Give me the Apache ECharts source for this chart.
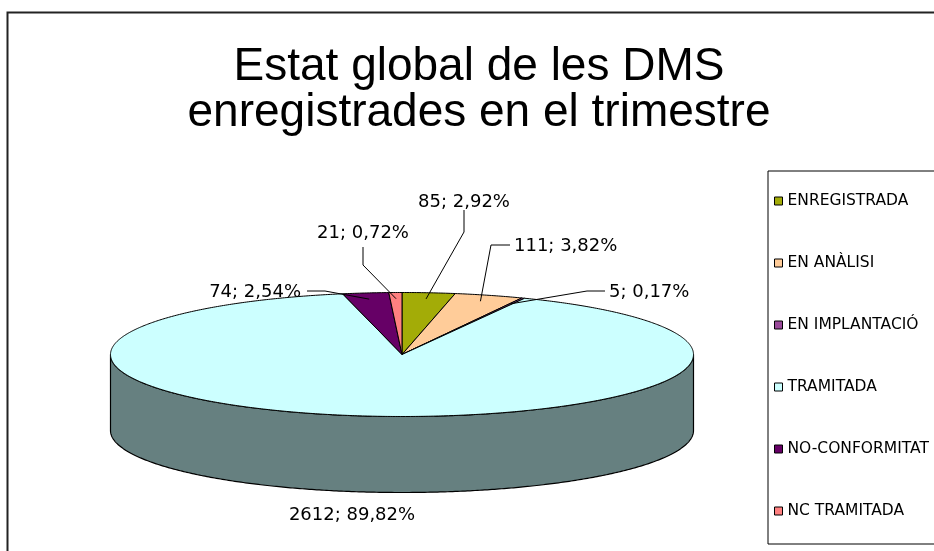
<!DOCTYPE html>
<html>
<head>
<meta charset="utf-8">
<title>Estat global de les DMS</title>
<script src="https://cdn.jsdelivr.net/npm/echarts@6/dist/echarts.min.js"></script>
<style>
  html, body { margin: 0; padding: 0; background: #fff; }
  #chart { width: 934px; height: 551px; }
</style>
</head>
<body>
<div id="chart"></div>
<script>
// Categories and counts of DMS registered in the quarter
const categories = ['ENREGISTRADA', 'EN ANÀLISI', 'EN IMPLANTACIÓ', 'TRAMITADA', 'NO-CONFORMITAT', 'NC TRAMITADA'];
const counts = [85, 111, 5, 2612, 74, 21];
const sliceColors = ['#A3AC07', '#FFCC99', '#9A4A9A', '#CCFFFF', '#660066', '#FF8080'];
const sideColor = '#668080';

// Geometry of the tilted pie (top ellipse + extruded wall)
const pie = { cx: 402, cy: 354.5, rx: 291.5, ry: 62, depth: 76 };

// Where each data label sits, and the bend of its leader line
const labelLayout = [
  { at: [464, 202], knee: [464, 232], end: [464, 210], align: 'center' },
  { at: [514, 246], knee: [491, 245], end: [510, 245], align: 'left' },
  { at: [609, 292], knee: [587, 291], end: [605, 291], align: 'left' },
  { at: [352, 515], align: 'center' },
  { at: [301, 292], knee: [325, 291], end: [307, 291], align: 'right' },
  { at: [363, 233], knee: [363, 265], end: [363, 247], align: 'center' }
];

const FONT = '"DejaVu Sans", "Liberation Sans", Arial, sans-serif';
const TITLE_FONT = '"Liberation Sans", Arial, Helvetica, sans-serif';
const total = counts.reduce((a, b) => a + b, 0);
const startFrac = [];
counts.reduce((acc, v, i) => { startFrac[i] = acc; return acc + v / total; }, 0);

function pt(theta, k, dz) {
  return [pie.cx + k * pie.rx * Math.sin(theta), pie.cy - k * pie.ry * Math.cos(theta) + (dz || 0)];
}

function arcPoints(a0, a1, dz) {
  const pts = [];
  const n = Math.max(2, Math.ceil(Math.abs(a1 - a0) / (Math.PI / 360)));
  for (let j = 0; j <= n; j++) pts.push(pt(a0 + (a1 - a0) * j / n, 1, dz));
  return pts;
}

function fmtPct(v) {
  return (v / total * 100).toFixed(2).replace('.', ',') + '%';
}

function renderSlice(params, api) {
  const i = params.dataIndex;
  const v = api.value(0);
  const a0 = startFrac[i] * 2 * Math.PI;
  const a1 = a0 + v / total * 2 * Math.PI;
  const children = [];

  // front wall: only the part of the rim facing the viewer (90°..270°)
  const f0 = Math.max(a0, Math.PI / 2);
  const f1 = Math.min(a1, Math.PI * 3 / 2);
  if (f1 > f0) {
    const upper = arcPoints(f0, f1, 0);
    const lower = arcPoints(f1, f0, pie.depth);
    children.push({
      type: 'polygon', z2: 1,
      shape: { points: upper.concat(lower) },
      style: { fill: sideColor, stroke: '#000', lineWidth: 1.2, lineJoin: 'round' }
    });
  }

  // top face
  children.push({
    type: 'polygon', z2: 10,
    shape: { points: [[pie.cx, pie.cy]].concat(arcPoints(a0, a1, 0)) },
    style: { fill: sliceColors[i], stroke: '#000', lineWidth: 1, lineJoin: 'round' }
  });

  // data label and leader line
  const lay = labelLayout[i];
  const mid = (a0 + a1) / 2;
  if (lay.knee) {
    children.push({
      type: 'polyline', z2: 20,
      shape: { points: [pt(mid, 0.9, 0), lay.knee, lay.end] },
      style: { stroke: '#000', lineWidth: 1, fill: null }
    });
  }
  children.push({
    type: 'text', z2: 30,
    x: lay.at[0], y: lay.at[1],
    style: {
      text: v + '; ' + fmtPct(v),
      fill: '#000',
      font: '18px ' + FONT,
      align: lay.align,
      verticalAlign: 'middle'
    }
  });

  return { type: 'group', children: children };
}

const chart = echarts.init(document.getElementById('chart'));
chart.setOption({
  backgroundColor: '#fff',
  animation: false,
  title: {
    text: 'Estat global de les DMS\nenregistrades en el trimestre',
    left: 479,
    top: 44,
    textAlign: 'center',
    padding: 0,
    textStyle: { fontFamily: TITLE_FONT, fontSize: 46, fontWeight: 'normal', color: '#000', lineHeight: 46 }
  },
  legend: {
    orient: 'vertical',
    left: 768,
    top: 171,
    padding: [22, 90, 25, 6],
    itemWidth: 8,
    itemHeight: 8,
    itemGap: 46,
    icon: 'rect',
    selectedMode: false,
    borderColor: '#000',
    borderWidth: 1,
    itemStyle: { borderColor: '#000', borderWidth: 1 },
    textStyle: { fontFamily: FONT, fontSize: 15.5, color: '#000', lineHeight: 16, padding: [0, 0, 0, 0] },
    data: categories
  },
  graphic: [{
    type: 'rect',
    shape: { x: 7.5, y: 12.5, width: 1000, height: 600 },
    style: { fill: null, stroke: '#222', lineWidth: 2 },
    silent: true
  }],
  series: [
    {
      // legend colour source; drawn outside the visible area
      type: 'pie',
      center: [-500, -500],
      radius: 10,
      silent: true,
      label: { show: false },
      labelLine: { show: false },
      data: categories.map((c, i) => ({ name: c, value: counts[i], itemStyle: { color: sliceColors[i] } }))
    },
    {
      type: 'custom',
      coordinateSystem: 'none',
      silent: true,
      renderItem: renderSlice,
      data: counts.map((v, i) => ({ name: categories[i], value: [v] }))
    }
  ]
});
</script>
</body>
</html>
